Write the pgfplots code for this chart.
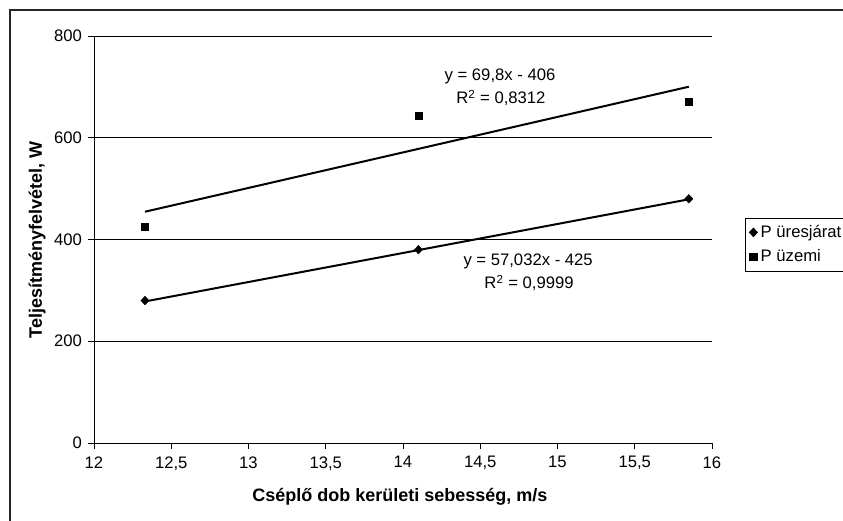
\documentclass[border=0pt]{standalone}
\usepackage{fontspec}
\setmainfont{Liberation Sans}
\usepackage{pgfplots}
\pgfplotsset{compat=1.18}
\begin{document}
\begin{tikzpicture}[x=0.75pt,y=0.75pt]
\useasboundingbox (0,0) rectangle (843,521);
\draw[line width=1.1pt, black!85] (10,-10) -- (10,511) -- (870,511);
\begin{axis}[
  at={(70.5pt,58.5pt)}, anchor=south west,
  scale only axis, width=463.5pt, height=305.25pt,
  xmin=12, xmax=16, ymin=0, ymax=800,
  xtick={12,12.5,...,16}, ytick={0,200,...,800},
  axis x line*=bottom, axis y line*=left,
  axis line style={-, black, line width=0.6pt},
  tick align=outside, major tick length=4.5pt,
  tick style={black, line width=0.6pt},
  ymajorgrids, grid style={black, line width=0.6pt},
  /pgf/number format/assume math mode=true,
  /pgf/number format/use comma,
  tick label style={font=\fontsize{12.5}{14}\selectfont},
  yticklabel style={xshift=-1pt},
  xticklabel style={yshift=-2pt},
  xlabel={\textbf{Cséplő dob kerületi sebesség, m/s}},
  ylabel={\textbf{Teljesítményfelvétel, W}},
  label style={font=\fontsize{13.5}{15}\selectfont},
  xlabel style={at={(rel axis cs:0.495,-0.1327)}, anchor=center},
  ylabel style={at={(rel axis cs:-0.0922,0.499)}, anchor=center},
  legend style={at={(rel axis cs:1.0534,0.554)}, anchor=north west,
    draw=black, line width=0.6pt, font=\fontsize{12.5}{14}\selectfont,
    inner xsep=3pt, inner ysep=3.5pt, row sep=3.5pt,
    nodes={inner xsep=2.5pt}},
  legend cell align=left,
  legend image code/.code={\draw[#1] plot coordinates {(0.1cm,0cm)};},
]
\addplot[black, line width=1.5pt, forget plot] coordinates {(12.33,278.2)(15.85,479.0)};
\addplot[black, line width=1.5pt, forget plot] coordinates {(12.33,454.6)(15.85,700.3)};
\addplot[only marks, mark=diamond*, mark size=3.2pt, mark options={scale=1, xscale=1.25}, black] coordinates {(12.33,280)(14.1,380)(15.85,480)};
\addlegendentry{P üresjárat}
\addplot[only marks, mark=square*, mark size=2.7pt, black] coordinates {(12.33,425)(14.1,643)(15.85,670)};
\addlegendentry{P üzemi}
\node[font=\fontsize{12.5}{14}\selectfont] at (axis cs:14.628,721) {y = 69,8x - 406};
\node[font=\fontsize{12.5}{14}\selectfont] at (axis cs:14.634,678) {R\textsuperscript{2} = 0,8312};
\node[font=\fontsize{12.5}{14}\selectfont] at (axis cs:14.81,357.7) {y = 57,032x - 425};
\node[font=\fontsize{12.5}{14}\selectfont] at (axis cs:14.816,314.5) {R\textsuperscript{2} = 0,9999};
\end{axis}
\end{tikzpicture}
\end{document}
